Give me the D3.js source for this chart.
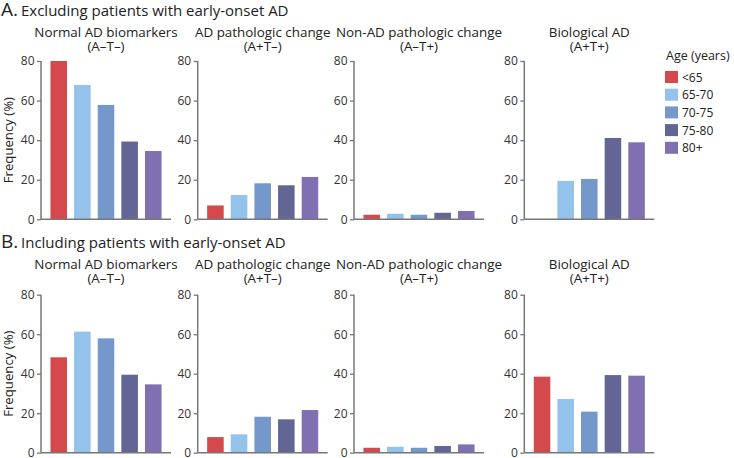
<!DOCTYPE html>
<html><head><meta charset="utf-8">
<script src="https://cdn.jsdelivr.net/npm/d3@7"></script>
<style>body{margin:0;background:#fff}svg{display:block;font-family:"Open Sans",sans-serif}</style>
</head><body><svg id="c" width="734" height="458"></svg>
<script>
const ages = ["<65","65-70","70-75","75-80","80+"];
const colors = ["#d44a4c","#93c2eb","#7598cb","#636594","#8170b1"];
const panelTitles = ["Normal AD biomarkers","AD pathologic change","Non-AD pathologic change","Biological AD"];
const panelSub = ["(A\u2013T\u2013)","(A+T\u2013)","(A\u2013T+)","(A+T+)"];
const sectionLabels = ["A.","B."];
const sectionTitles = ["Excluding patients with early-onset AD","Including patients with early-onset AD"];
const yTicks = [0,20,40,60,80];
// Section A: excluding early-onset
const excl_normal = [80,67.9,57.8,39.3,34.5];
const excl_adPath = [7.0,12.3,18.2,17.2,21.4];
const excl_nonAD = [2.3,2.8,2.3,3.3,4.2];
const excl_bioAD = [0,19.4,20.4,41.1,38.9];
// Section B: including early-onset
const incl_normal = [48.3,61.3,57.9,39.5,34.6];
const incl_adPath = [7.9,9.3,18.2,16.9,21.6];
const incl_nonAD = [2.5,3.0,2.5,3.4,4.2];
const incl_bioAD = [38.5,27.2,20.8,39.3,39.0];

const sections = [
  [excl_normal, excl_adPath, excl_nonAD, excl_bioAD],
  [incl_normal, incl_adPath, incl_nonAD, incl_bioAD]
];

const svg = d3.select("#c");
const panelX = [41, 197.7, 354, 524.3];
const panelW = 130;
const secY = [{top:61, bottom:219.3, head:15.5, t1:36.7, t2:50.5},
              {top:294.7, bottom:452.7, head:248, t1:268.5, t2:282.5}];

const x = d3.scaleBand().domain(ages).range([0, panelW]).paddingInner(0.3).paddingOuter(0.4);
const color = d3.scaleOrdinal().domain(ages).range(colors);

sections.forEach((panels, si) => {
  const s = secY[si];
  const y = d3.scaleLinear().domain([0,80]).range([s.bottom, s.top]);
  svg.append("text").attr("x",1).attr("y",s.head).attr("font-size",19).attr("fill","#222").text(sectionLabels[si]);
  svg.append("text").attr("x",21).attr("y",s.head).attr("font-size",15).attr("fill","#222").text(sectionTitles[si]);
  svg.append("text").attr("transform",`translate(13,${(s.top+s.bottom)/2}) rotate(-90)`)
    .attr("text-anchor","middle").attr("font-size",13.2).attr("fill","#222").text("Frequency (%)");
  panels.forEach((vals, pi) => {
    const g = svg.append("g").attr("transform",`translate(${panelX[pi]},0)`);
    g.append("text").attr("x",panelW/2).attr("y",s.t1).attr("text-anchor","middle").attr("font-size",13.4).attr("fill","#222").text(panelTitles[pi]);
    g.append("text").attr("x",panelW/2).attr("y",s.t2).attr("text-anchor","middle").attr("font-size",13.4).attr("fill","#222").text(panelSub[pi]);
    g.selectAll("rect").data(vals).join("rect")
      .attr("x",(d,i)=>x(ages[i])).attr("width",x.bandwidth())
      .attr("y",d=>y(d)).attr("height",d=>y(0)-y(d))
      .attr("fill",(d,i)=>color(ages[i]));
    const ax = g.append("g").call(d3.axisLeft(y).tickValues(yTicks).tickSize(4).tickPadding(2.5));
    ax.select(".domain").remove();
    ax.selectAll(".tick line").attr("stroke","#777").attr("stroke-width",1.3);
    ax.selectAll(".tick text").attr("font-size",12).attr("fill","#333").attr("font-family","Open Sans");
    g.append("line").attr("x1",0).attr("x2",0).attr("y1",s.top).attr("y2",s.bottom).attr("stroke","#777").attr("stroke-width",1.5);
    g.append("line").attr("x1",0).attr("x2",panelW).attr("y1",s.bottom).attr("y2",s.bottom).attr("stroke","#777").attr("stroke-width",1.5);
  });
});

// Legend
const lg = svg.append("g").attr("transform","translate(665,0)");
lg.append("text").attr("x",1).attr("y",60).attr("font-size",12.5).attr("fill","#222").text("Age (years)");
ages.forEach((a,i)=>{
  lg.append("rect").attr("x",0).attr("y",71+i*17.7).attr("width",13).attr("height",12).attr("fill",color(a));
  lg.append("text").attr("x",17).attr("y",81.5+i*17.7).attr("font-size",12).attr("fill","#222").text(a);
});
</script></body></html>
